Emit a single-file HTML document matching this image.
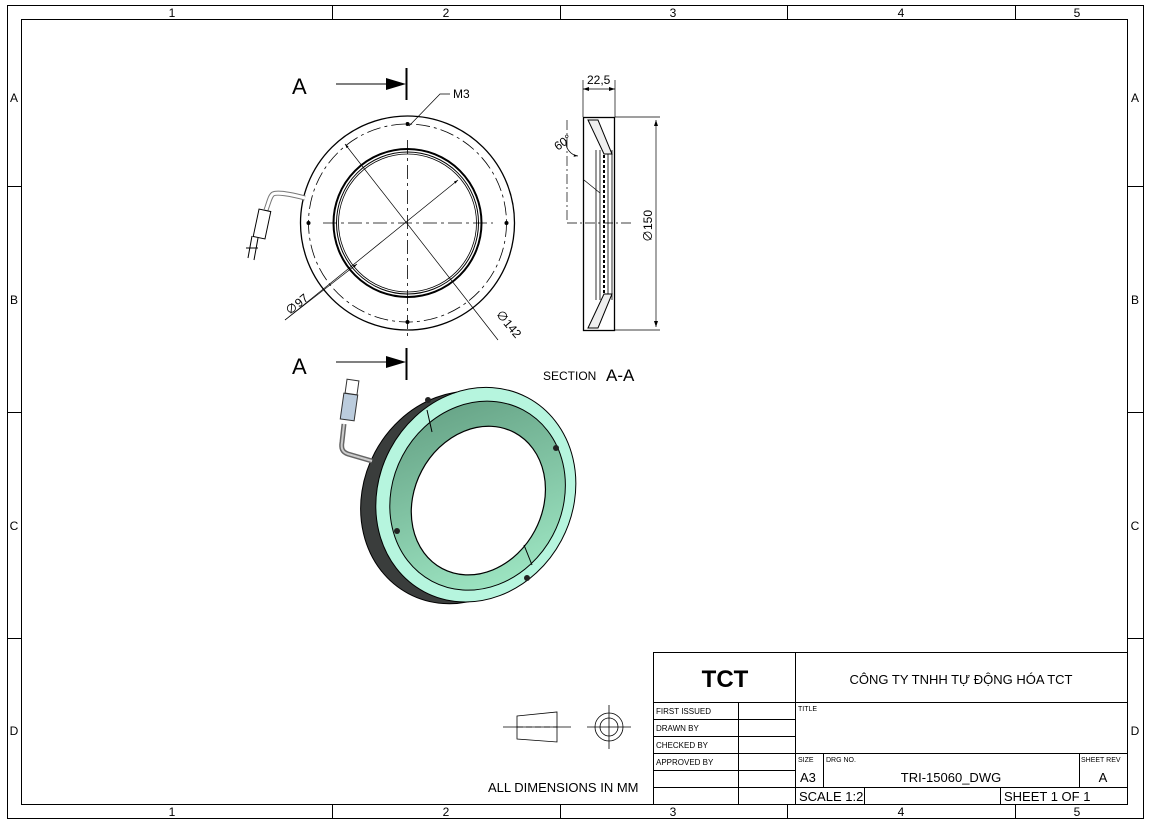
<!DOCTYPE html>
<html><head><meta charset="utf-8"><style>
html,body{margin:0;padding:0;background:#fff;}
svg{display:block;font-family:"Liberation Sans","Noto Sans CJK SC",sans-serif;}
</style></head><body>
<svg width="1151" height="826" viewBox="0 0 1151 826" xmlns="http://www.w3.org/2000/svg">
<defs>
<linearGradient id="g1" x1="0" y1="0" x2="1" y2="1"><stop offset="0" stop-color="#5f9a7e"/><stop offset="1" stop-color="#a6f0cc"/></linearGradient>
<marker id="ar" viewBox="0 0 10 10" refX="10" refY="5" markerWidth="8" markerHeight="6" orient="auto-start-reverse"><path d="M0,2 L10,5 L0,8z" fill="#000"/></marker>
</defs>
<rect width="1151" height="826" fill="#fff"/>
<g fill="none" stroke="#000" stroke-width="1">
<rect x="7.5" y="5.5" width="1136" height="813"/>
<rect x="21.5" y="19.5" width="1106" height="785"/>
<path d="M332.5 5v14M560.5 5v14M787.5 5v14M1015.5 5v14M332.5 805v14M560.5 805v14M787.5 805v14M1015.5 805v14"/>
<path d="M7 186.5h14M7 412.5h14M7 638.5h14M1128 186.5h15M1128 412.5h15M1128 638.5h15"/>
</g>
<g font-size="12" text-anchor="middle">
<text x="172" y="17">1</text><text x="446" y="17">2</text><text x="673" y="17">3</text><text x="901" y="17">4</text><text x="1077" y="17">5</text>
<text x="172" y="816">1</text><text x="446" y="816">2</text><text x="673" y="816">3</text><text x="901" y="816">4</text><text x="1077" y="816">5</text>
<text x="14" y="102">A</text><text x="14" y="304">B</text><text x="14" y="530">C</text><text x="14" y="735">D</text>
<text x="1135" y="102">A</text><text x="1135" y="304">B</text><text x="1135" y="530">C</text><text x="1135" y="735">D</text>
</g>

<text x="292" y="94" font-size="22">A</text>
<path d="M336 84h50" stroke="#000"/><path d="M386 78l20 6-20 6z"/><path d="M406.5 68v32" stroke="#000" stroke-width="2"/>
<text x="292" y="374" font-size="22">A</text>
<path d="M336 362h50" stroke="#000"/><path d="M386 356l20 6-20 6z"/><path d="M406.5 348v32" stroke="#000" stroke-width="2"/>

<g fill="none" stroke="#000">
<circle cx="407.5" cy="223" r="107" stroke-width="1.3"/>
<circle cx="407.5" cy="223" r="99" stroke-dasharray="14 4 3 4" stroke-width="0.8"/>
<circle cx="407.5" cy="223" r="74" stroke-width="2"/>
<circle cx="407.5" cy="223" r="71" stroke-width="1"/>
<circle cx="407.5" cy="223" r="69" stroke-width="0.8"/>
<path d="M323 223h170M407.5 140v200" stroke-dasharray="14 4 3 4" stroke-width="0.8"/>
<path d="M345 144L498 340" stroke-width="0.7" marker-start="url(#ar)"/>
<path d="M285 320L458 180" stroke-width="0.7" marker-end="url(#ar)"/>
<path d="M357 264L285 320" stroke-width="0.7" marker-start="url(#ar)"/>
<path d="M409 126L440 94H450" stroke-width="0.7"/>
<path d="M305 198c-15-4-28-6-32-4c-3 2-4 8-7 16" stroke-width="5" stroke="#777"/>
<path d="M305 198c-15-4-28-6-32-4c-3 2-4 8-7 16" stroke-width="3" stroke="#fff"/>
<rect x="256" y="210" width="12" height="28" stroke-width="1" fill="#fff" transform="rotate(12 262 224)"/>
<path d="M252 236l-4 22M258 238l-4 22M246 248h12" stroke-width="1"/>
</g>
<g fill="#000"><circle cx="407.5" cy="124" r="2"/><circle cx="407.5" cy="322" r="2"/><circle cx="308.5" cy="223" r="2"/><circle cx="506.5" cy="223" r="2"/></g>
<text x="453" y="98" font-size="12">M3</text>
<text x="283" y="313" font-size="12" transform="rotate(-40 290 305)">∅97</text>
<text x="487" y="318" font-size="12" transform="rotate(50 495 325)">∅142</text>

<g fill="none" stroke="#000">
<rect x="583.5" y="117.5" width="31" height="213" stroke-width="1.3"/>
<path d="M583 117V80M615 117V80M583 89h32" stroke-width="0.7"/>
<path d="M615 117h45M615 330h45M656 120v207" stroke-width="0.7"/>
<path d="M596 150v150M600 150v150M608 150v150M612 150v150" stroke-width="0.8"/>
<path d="M604 150v150" stroke-dasharray="3 2" stroke-width="2"/>
<path d="M588 120l16 34h8l-14-34zM588 328l16-34h8l-14 34z" stroke-width="1" fill="#eee"/>
<path d="M567 223h65M567 120v103" stroke-dasharray="10 3 2 3" stroke-width="0.7"/>
<path d="M584 180l16 13" stroke-width="0.7"/>
<path d="M566 140a14 14 0 0 0 12 16" stroke-width="0.7" marker-end="url(#ar)"/>
</g>
<path d="M583 89l6-2v4zM615 89l-6-2v4zM656 120l-2 6h4zM656 327l-2-6h4z"/>
<text x="587" y="84" font-size="12">22,5</text>
<text x="553" y="148" font-size="12" transform="rotate(-35 560 142)">60°</text>
<text x="652" y="242" font-size="12" transform="rotate(-90 652 242)">∅150</text>
<text x="543" y="380" font-size="12">SECTION</text><text x="606" y="381" font-size="17">A-A</text>

<g transform="rotate(28 470 495)">
<ellipse cx="462" cy="502" rx="96" ry="109" fill="#3a3d3c" stroke="#000"/>
<ellipse cx="475" cy="492" rx="97" ry="110" fill="#b6f5de" stroke="#000"/>
<ellipse cx="477" cy="492" rx="85" ry="97" fill="url(#g1)" stroke="#000"/>
<ellipse cx="480" cy="496" rx="64" ry="77" fill="#fff" stroke="#000" stroke-width="1.2"/>
</g>
<path d="M427 410l5 22M524 545l8 20" stroke="#000" fill="none"/>
<g fill="#222"><circle cx="428" cy="400" r="3"/><circle cx="556" cy="448" r="3"/><circle cx="527" cy="578" r="3"/><circle cx="397" cy="531" r="3"/></g>
<path d="M372 461L348 454c-6-2-7-6-6-12l2-18" stroke="#666" stroke-width="5" fill="none"/>
<path d="M372 461L348 454c-6-2-7-6-6-12l2-18" stroke="#ccc" stroke-width="2" fill="none"/>
<rect x="342" y="394" width="14" height="26" fill="#bcd" stroke="#333" transform="rotate(8 349 407)"/>
<rect x="346" y="380" width="12" height="14" fill="#fff" stroke="#333" transform="rotate(8 352 387)"/>

<g fill="none" stroke="#000" stroke-width="0.8">
<path d="M503 727h68M517 716l40-4v30l-40-3z"/>
<path d="M517 727h40" stroke-dasharray="6 3"/>
<path d="M587 727h44M609 705v44"/>
<circle cx="609" cy="727" r="14"/><circle cx="609" cy="727" r="9"/>
</g>
<text x="488" y="792" font-size="13">ALL DIMENSIONS IN MM</text>

<g fill="none" stroke="#000" stroke-width="1">
<rect x="653.5" y="652.5" width="474" height="152"/>
<path d="M795.5 652v153M653 702.5h475M653 719.5h142M653 736.5h142M653 753.5h475M653 770.5h142M653 787.5h475M738.5 702v103"/>
<path d="M823.5 753v34M1079.5 753v34M864.5 787v18M1000.5 787v18"/>
</g>
<text x="725" y="687" font-size="24" font-weight="bold" text-anchor="middle">TCT</text>
<text x="961" y="684" font-size="13" text-anchor="middle">CÔNG TY TNHH TỰ ĐỘNG HÓA TCT</text>
<g font-size="8">
<text x="656" y="714">FIRST ISSUED</text><text x="656" y="731">DRAWN BY</text><text x="656" y="748">CHECKED BY</text><text x="656" y="765">APPROVED BY</text>
<text x="798" y="711" font-size="7">TITLE</text><text x="798" y="762" font-size="7">SIZE</text><text x="826" y="762" font-size="7">DRG NO.</text><text x="1081" y="762" font-size="7">SHEET REV</text>
</g>
<text x="800" y="782" font-size="13">A3</text>
<text x="951" y="782" font-size="13" text-anchor="middle">TRI-15060_DWG</text>
<text x="1103" y="782" font-size="13" text-anchor="middle">A</text>
<text x="799" y="801" font-size="13">SCALE 1:2</text>
<text x="1004" y="801" font-size="13">SHEET 1 OF 1</text>
</svg>
</body></html>
